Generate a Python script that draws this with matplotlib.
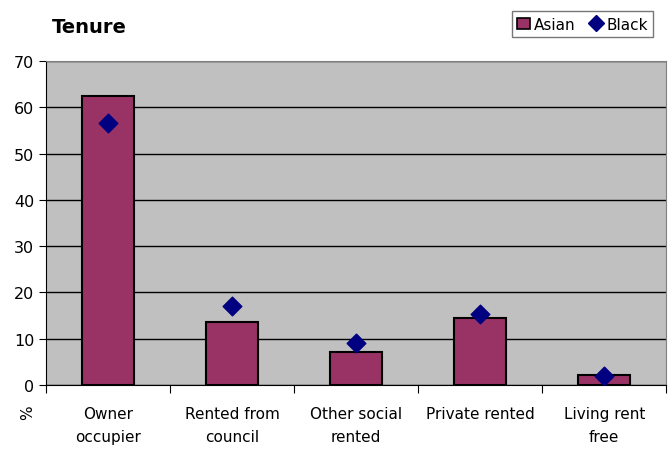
import numpy as np
import matplotlib
matplotlib.use("Agg")
import matplotlib.pyplot as plt
from matplotlib.lines import Line2D
from matplotlib.patches import Patch

# data
categories = ["Owner\noccupier", "Rented from\ncouncil", "Other social\nrented",
              "Private rented", "Living rent\nfree"]
asian = [62.4, 13.6, 7.1, 14.5, 2.2]
black = [56.6, 17.1, 9.1, 15.3, 1.9]

fig = plt.figure(figsize=(6.69, 4.52), dpi=100)
ax = fig.add_axes([0.069, 0.146, 0.927, 0.717])
ax.set_facecolor("#C0C0C0")

x = np.arange(len(categories))
ax.bar(x, asian, width=0.42, color="#993366", edgecolor="black", linewidth=1.5, zorder=3)
ax.scatter(x, black, marker="D", s=90, color="#000080", zorder=4)

ax.set_xlim(-0.5, len(categories) - 0.5)
ax.set_ylim(0, 70)
ax.set_yticks(range(0, 71, 10))
ax.yaxis.grid(True, color="black", linewidth=1)
ax.set_axisbelow(True)
ax.tick_params(axis="y", labelsize=11.5, length=5, color="black")

# x ticks between categories, labels at centres
ax.set_xticks(np.arange(-0.5, len(categories), 1))
ax.set_xticklabels([])
ax.tick_params(axis="x", length=6, color="black")
for i, c in enumerate(categories):
    ax.text(i, -4.5, c, ha="center", va="top", fontsize=11, linespacing=1.7)

for s in ["top", "right"]:
    ax.spines[s].set_color("#808080")
ax.spines["left"].set_color("black")
ax.spines["bottom"].set_color("black")

fig.text(0.042, 0.086, "%", rotation=90, ha="center", va="center", fontsize=11)
fig.text(0.078, 0.94, "Tenure", fontsize=14, fontweight="bold", ha="left", va="center")

handles = [Patch(facecolor="#993366", edgecolor="black", linewidth=1.2),
           Line2D([], [], marker="D", color="#000080", linestyle="", markersize=8)]
fig.legend(handles, ["Asian", "Black"], loc="upper right", bbox_to_anchor=(0.988, 0.99),
           ncol=2, fontsize=11, frameon=True, fancybox=False, edgecolor="#555555",
           handlelength=0.8, handletextpad=0.3, columnspacing=0.9, borderpad=0.35)

fig.savefig("out.png", dpi=100)
